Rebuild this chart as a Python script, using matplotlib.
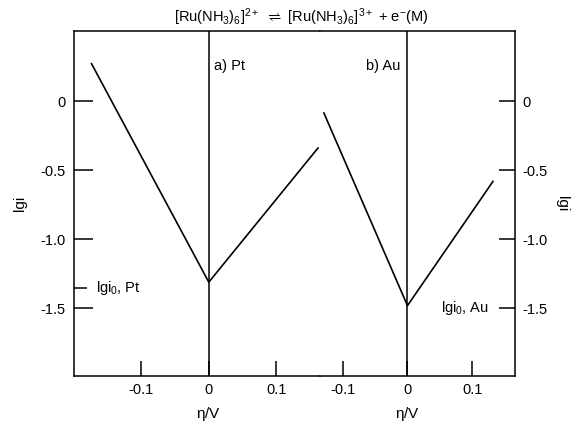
import matplotlib.pyplot as plt

plt.rcParams['font.family'] = ['Liberation Sans', 'DejaVu Sans']
plt.rcParams['mathtext.default'] = 'regular'
plt.rcParams['font.size'] = 10.5

# data
pt_eta = [-0.174, 0.0, 0.162]
pt_lgi = [0.273, -1.31, -0.338]
au_eta = [-0.129, 0.0, 0.132]
au_lgi = [-0.084, -1.48, -0.58]

lgi0_pt = -1.35
lgi0_au = -1.5

x_ticks = [-0.1, 0.0, 0.1]
x_labels = ['-0.1', '0', '0.1']
y_ticks = [0.0, -0.5, -1.0, -1.5]
y_labels = ['0', '-0.5', '-1.0', '-1.5']

pt_xlim = (-0.2, 0.165)
au_xlim = (-0.135, 0.166)
ylim = (-1.99, 0.51)

title = r'[Ru(NH$_3$)$_6$]$^{2+}$ $\rightleftharpoons$ [Ru(NH$_3$)$_6$]$^{3+}$ + e$^{-}$(M)'

W, H = 572, 426
fig = plt.figure(figsize=(W / 100, H / 100), dpi=100)
left, right, bottom, top = 74, 515, 376, 31
split = 320
ax1 = fig.add_axes([left / W, 1 - bottom / H, (split - left) / W, (bottom - top) / H])
ax2 = fig.add_axes([split / W, 1 - bottom / H, (right - split) / W, (bottom - top) / H])

for ax, xlim, eta, lgi in [(ax1, pt_xlim, pt_eta, pt_lgi), (ax2, au_xlim, au_eta, au_lgi)]:
    ax.plot(eta, lgi, color='black', lw=1.2)
    ax.axvline(0, color='black', lw=1.1)
    ax.set_xlim(*xlim)
    ax.set_ylim(*ylim)
    ax.set_xticks(x_ticks)
    ax.set_xticklabels(x_labels)
    ax.tick_params(axis='x', direction='in', length=10.5, width=1.1, pad=5, labelsize=10.5)
    for s in ax.spines.values():
        s.set_linewidth(1.1)
    ax.set_xlabel(r'$\eta$/V', fontsize=11)
    ax.xaxis.set_label_coords(-xlim[0] / (xlim[1] - xlim[0]), -0.085)

ax1.spines['right'].set_visible(False)
ax2.spines['left'].set_visible(False)

ax1.set_yticks(y_ticks)
ax1.set_yticklabels(y_labels)
ax1.set_yticks([lgi0_pt], minor=True)
ax1.tick_params(axis='y', which='major', direction='in', length=14, width=1.1, pad=6, labelsize=10.5)
ax1.tick_params(axis='y', which='minor', direction='in', length=9, width=1.1)
ax1.set_ylabel('lgi', fontsize=11, labelpad=10)

ax2.yaxis.tick_right()
ax2.yaxis.set_label_position('right')
ax2.set_yticks(y_ticks)
ax2.set_yticklabels(y_labels)
ax2.tick_params(axis='y', which='major', direction='in', length=11.5, width=1.1, pad=5, labelsize=10.5)
ax2.set_ylabel('lgi', fontsize=11, rotation=270, labelpad=16)

ax1.text(-0.168, lgi0_pt, 'lgi$_0$, Pt', ha='left', va='center', fontsize=10.5)
ax2.text(0.126, lgi0_au, 'lgi$_0$, Au', ha='right', va='center', fontsize=10.5)
ax1.text(0.008, 0.254, 'a) Pt', ha='left', va='center', fontsize=10.5)
ax2.text(-0.011, 0.254, 'b) Au', ha='right', va='center', fontsize=10.5)

fig.text(301 / W, 1 - 17 / H, title, ha='center', va='center', fontsize=10.5)

fig.savefig('out.png', dpi=100)
